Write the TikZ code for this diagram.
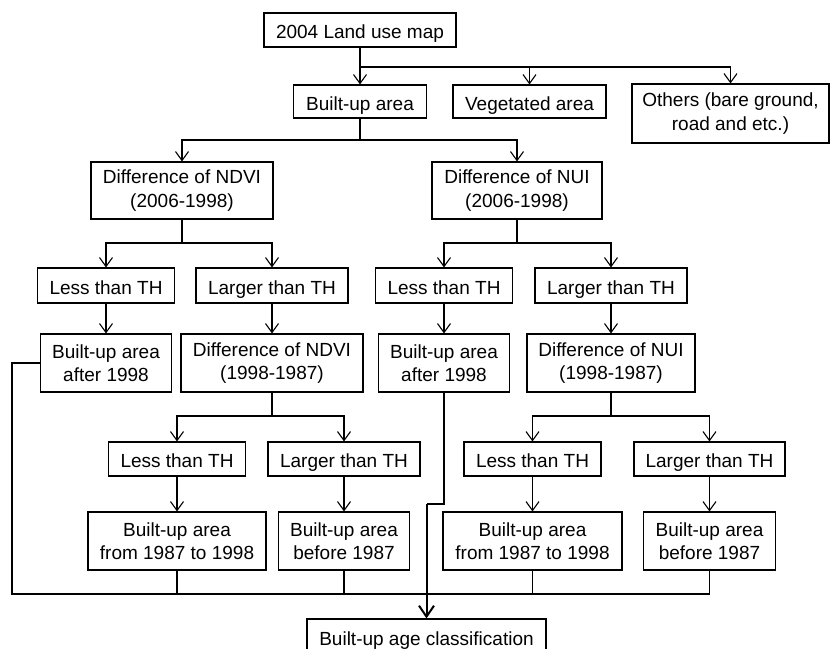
\documentclass[tikz,border=0pt]{standalone}
\usepackage{fontspec}
\setmainfont{Liberation Sans}
\usetikzlibrary{arrows.meta}
\tikzset{
	box/.style={draw, line width=1.1pt, align=center, inner sep=0pt, font=\fontsize{19}{23.5}\selectfont},
	onebox/.style={box, text height=17pt, text depth=0pt},
	arr/.style={line width=1.1pt, -{Straight Barb[length=9pt,width=13pt,line width=1.1pt]}},
	bigarr/.style={line width=2pt, -{Straight Barb[length=11pt,width=15pt,line width=2pt]}},
	ln/.style={line width=1.1pt},
}

\begin{document}
\begin{tikzpicture}[x=1pt,y=-1pt]
	%%%%% START %%%%%
	\def\ya{30}
	\def\yb{101.5}
	\def\yc{190.5}
	\def\yd{285.5}
	\def\ye{363}
	\def\yf{459}
	\def\yg{541}
	\def\yh{637}
	\def\hsm{34pt}
	\def\hlg{58pt}

	\useasboundingbox (0,0) rectangle (830,648);
	\clip (0,0) rectangle (830,648);

	\node[onebox, minimum width=192pt, minimum height=\hsm] (land) at (360,\ya) {2004 Land use map};

	\node[onebox, minimum width=133pt, minimum height=33pt] (built) at (360,\yb) {Built-up area};
	\node[onebox, minimum width=153pt, minimum height=33pt] (veg) at (529.5,\yb) {Vegetated area};
	\node[box, minimum width=197pt, minimum height=59pt] (others) at (730.5,113.5) {Others (bare ground,\\road and etc.)};

	\node[box, minimum width=182pt, minimum height=57pt] (ndvia) at (182,\yc) {Difference of NDVI\\(2006-1998)};
	\node[box, minimum width=170pt, minimum height=57pt] (nuia) at (517,\yc) {Difference of NUI\\(2006-1998)};

	\node[onebox, minimum width=137pt, minimum height=35pt] (lessa) at (106,\yd) {Less than TH};
	\node[onebox, minimum width=152pt, minimum height=35pt] (largea) at (272,\yd) {Larger than TH};
	\node[onebox, minimum width=137pt, minimum height=35pt] (lessb) at (444,\yd) {Less than TH};
	\node[onebox, minimum width=152pt, minimum height=35pt] (largeb) at (611,\yd) {Larger than TH};

	\node[box, minimum width=131pt, minimum height=\hlg] (aftera) at (106,\ye) {Built-up area\\after 1998};
	\node[box, minimum width=182pt, minimum height=\hlg] (ndvib) at (272,\ye) {Difference of NDVI\\(1998-1987)};
	\node[box, minimum width=131pt, minimum height=\hlg] (afterb) at (444,\ye) {Built-up area\\after 1998};
	\node[box, minimum width=168pt, minimum height=\hlg] (nuib) at (611,\ye) {Difference of NUI\\(1998-1987)};

	\node[onebox, minimum width=137pt, minimum height=\hsm] (lessc) at (177,\yf) {Less than TH};
	\node[onebox, minimum width=152pt, minimum height=\hsm] (largec) at (344,\yf) {Larger than TH};
	\node[onebox, minimum width=137pt, minimum height=\hsm] (lessd) at (532.5,\yf) {Less than TH};
	\node[onebox, minimum width=151pt, minimum height=\hsm] (larged) at (709.5,\yf) {Larger than TH};

	\node[box, minimum width=178pt, minimum height=\hlg] (froma) at (177,\yg) {Built-up area\\from 1987 to 1998};
	\node[box, minimum width=131pt, minimum height=\hlg] (beforea) at (344,\yg) {Built-up area\\before 1987};
	\node[box, minimum width=179pt, minimum height=\hlg] (fromb) at (532.5,\yg) {Built-up area\\from 1987 to 1998};
	\node[box, minimum width=132pt, minimum height=\hlg] (beforeb) at (709.5,\yg) {Built-up area\\before 1987};

	\node[onebox, minimum width=239pt, minimum height=36pt] (final) at (426.5,\yh) {Built-up age classification};

	% junctions
	\coordinate (ja) at (360,67);
	\coordinate (jb) at (360,140);
	\coordinate (jc) at (182,243);
	\coordinate (jd) at (517,243);
	\coordinate (je) at (272,416);
	\coordinate (jf) at (611,416);
	\coordinate (jg) at (426.5,504);
	\coordinate (jh) at (426.5,594);
	\coordinate (lft) at (12,594);

	\draw[line width=2pt] (land.south) -- (ja);
	\draw[arr] (ja) -- (built.north);
	\draw[arr] (ja) -| (veg.north);
	\draw[arr] (ja) -| (others.north);

	\draw[ln] (built.south) -- (jb);
	\draw[arr] (jb) -| (ndvia.north);
	\draw[arr] (jb) -| (nuia.north);

	\draw[ln] (ndvia.south) -- (jc);
	\draw[arr] (jc) -| (lessa.north);
	\draw[arr] (jc) -| (largea.north);
	\draw[ln] (nuia.south) -- (jd);
	\draw[arr] (jd) -| (lessb.north);
	\draw[arr] (jd) -| (largeb.north);

	\draw[arr] (lessa) -- (aftera);
	\draw[arr] (largea) -- (ndvib);
	\draw[arr] (lessb) -- (afterb);
	\draw[arr] (largeb) -- (nuib);

	\draw[ln] (ndvib.south) -- (je);
	\draw[arr] (je) -| (lessc.north);
	\draw[arr] (je) -| (largec.north);
	\draw[ln] (nuib.south) -- (jf);
	\draw[arr] (jf) -| (lessd.north);
	\draw[arr] (jf) -| (larged.north);

	\draw[arr] (lessc) -- (froma);
	\draw[arr] (largec) -- (beforea);
	\draw[arr] (lessd) -- (fromb);
	\draw[arr] (larged) -- (beforeb);

	% to the classification
	\draw[ln] (aftera.west) -| (lft) -- (jh);
	\draw[ln] (froma.south) -- (froma.south |- jh);
	\draw[ln] (beforea.south) -- (beforea.south |- jh);
	\draw[line width=1.8pt] (froma.south |- jh) -- (jh);
	\draw[ln] (fromb.south) -- (fromb.south |- jh);
	\draw[ln] (beforeb.south) |- (jh);
	\draw[ln] (afterb.south) |- (jg);
	\draw[bigarr] (jg) -- (final.north);
	%%%%% END %%%%%
\end{tikzpicture}
\end{document}
